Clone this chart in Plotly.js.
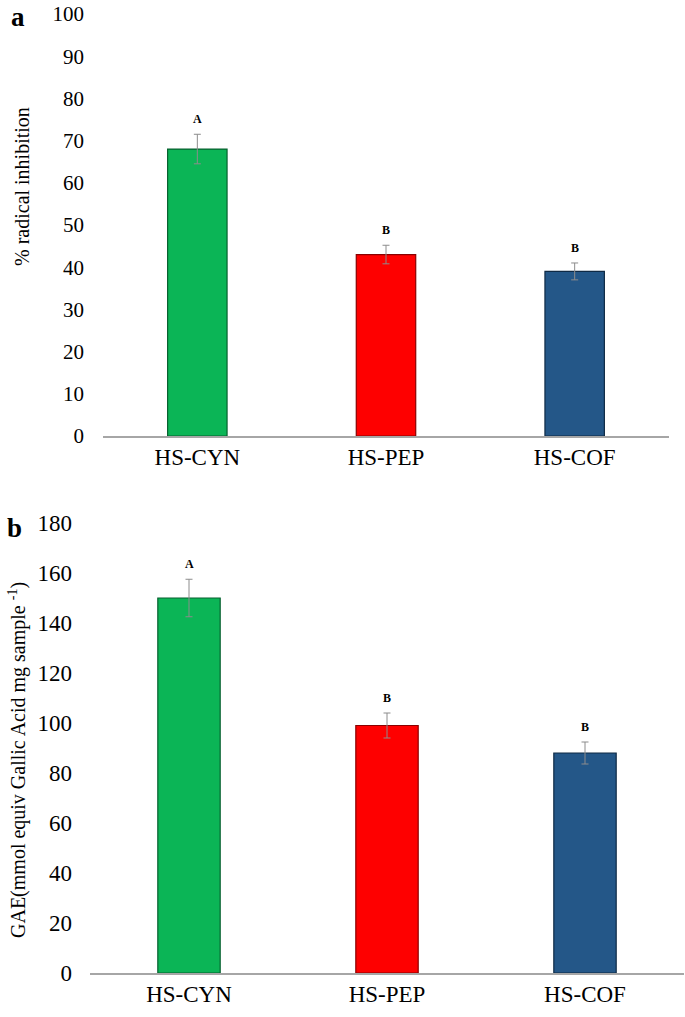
<!DOCTYPE html>
<html>
<head>
<meta charset="utf-8">
<script src="https://cdn.plot.ly/plotly-3.0.1.min.js"></script>
<style>html,body{margin:0;padding:0;background:#fff;}</style>
</head>
<body>
<div id="chart" style="width:685px;height:1017px;"></div>
<script>
// Data
const categories = ["HS-CYN", "HS-PEP", "HS-COF"];
const inhibition = [68, 43, 39];
const inhibitionErr = [3.5, 2.2, 2];
const inhibitionLetters = ["A", "B", "B"];
const gae = [150, 99, 88];
const gaeErr = [7.5, 5, 4.4];
const gaeLetters = ["A", "B", "B"];
const barColors = ["#0bb556", "#fe0000", "#245788"];
const edgeColors = ["#06602e", "#8a0000", "#0f2a45"];

const serif = "Liberation Serif, Times New Roman, serif";

function barTrace(y, err, xa, ya) {
  return {
    type: "bar", x: categories, y: y, xaxis: xa, yaxis: ya,
    marker: {color: barColors, line: {color: edgeColors, width: 1.2}},
    error_y: {type: "data", array: err, visible: true, color: "#8c8c8c", thickness: 1, width: 3.5},
    hoverinfo: "skip", showlegend: false
  };
}

const traces = [
  barTrace(inhibition, inhibitionErr, "x", "y"),
  barTrace(gae, gaeErr, "x2", "y2")
];

const annotations = [];
categories.forEach((c, i) => {
  annotations.push({x: c, y: inhibition[i] + inhibitionErr[i], xref: "x", yref: "y",
    text: "<b>" + inhibitionLetters[i] + "</b>", showarrow: false, yanchor: "bottom", yshift: 6,
    font: {family: serif, size: 12, color: "#000"}});
  annotations.push({x: c, y: gae[i] + gaeErr[i], xref: "x2", yref: "y2",
    text: "<b>" + gaeLetters[i] + "</b>", showarrow: false, yanchor: "bottom", yshift: 6,
    font: {family: serif, size: 12, color: "#000"}});
});
const paperLabels = [
  {px: 18, py: 17, text: "<b>a</b>", size: 27, angle: 0},
  {px: 22, py: 187, text: "% radical inhibition", size: 20, angle: -90},
  {px: 14, py: 528, text: "<b>b</b>", size: 27, angle: 0},
  {px: 17, py: 760, text: "GAE(mmol equiv Gallic Acid mg sample <sup>-1</sup>)", size: 20, angle: -90}
];

const W = 685, H = 1017, M = {l: 90, r: 1, t: 14, b: 44};
const pw = W - M.l - M.r, ph = H - M.t - M.b;
paperLabels.forEach(p => {
  annotations.push({
    x: (p.px - M.l) / pw, y: 1 - (p.py - M.t) / ph, xref: "paper", yref: "paper",
    xanchor: "center", yanchor: "middle", text: p.text, showarrow: false, textangle: p.angle,
    font: {family: serif, size: p.size, color: "#000"}
  });
});

const xaxisBase = {
  showline: true, linecolor: "#a6a6a6", linewidth: 1.5, showgrid: false, zeroline: false,
  ticks: "", tickfont: {family: serif, size: 23, color: "#000"}, fixedrange: true
};
const yaxisBase = {
  showline: false, showgrid: false, zeroline: false, ticks: "", fixedrange: true
};

const layout = {
  width: W, height: H,
  margin: M,
  paper_bgcolor: "#fff", plot_bgcolor: "#fff",
  bargap: 0.685,
  showlegend: false,
  xaxis: Object.assign({}, xaxisBase, {anchor: "y", domain: [(103 - M.l) / pw, (669 - M.l) / pw]}),
  yaxis: Object.assign({}, yaxisBase, {anchor: "x", domain: [1 - 422 / ph, 1], range: [0, 100], dtick: 10,
    tickfont: {family: serif, size: 21, color: "#000"}, ticklabelstandoff: 18}),
  xaxis2: Object.assign({}, xaxisBase, {anchor: "y2", domain: [0, 1]}),
  yaxis2: Object.assign({}, yaxisBase, {anchor: "x2", domain: [0, 1 - 509 / ph], range: [0, 180], dtick: 20,
    tickfont: {family: serif, size: 23, color: "#000"}, ticklabelstandoff: 17}),
  annotations: annotations
};

Plotly.newPlot("chart", traces, layout, {displayModeBar: false, staticPlot: true});
</script>
</body>
</html>
